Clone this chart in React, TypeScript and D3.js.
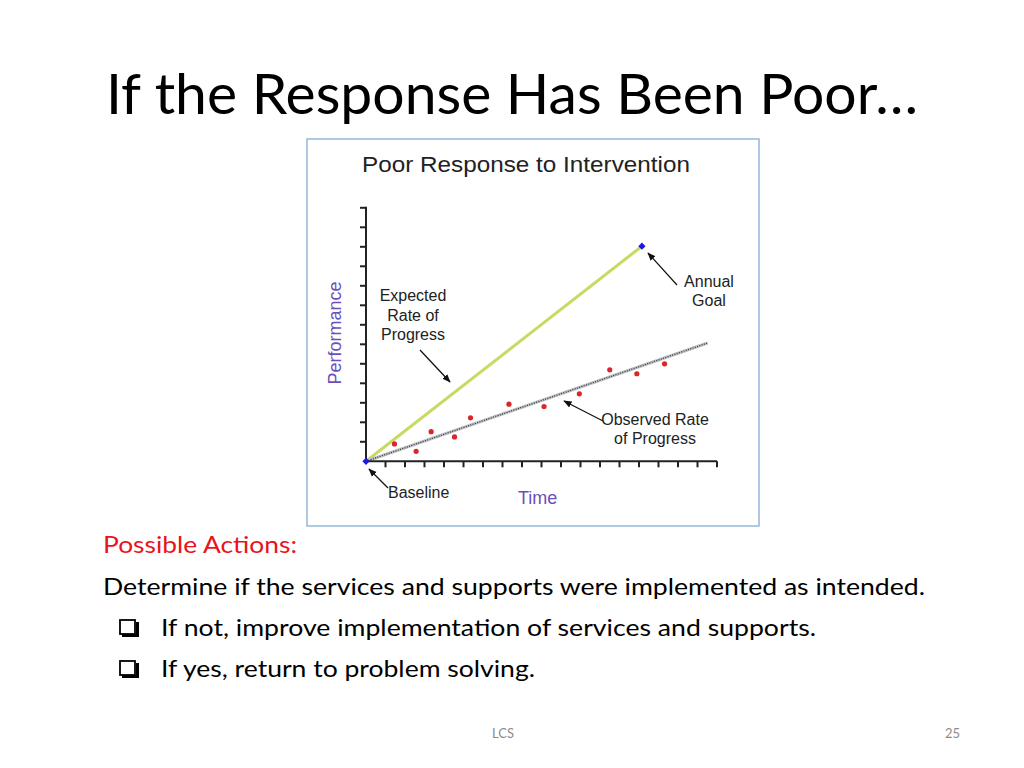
import * as React from "react"
import * as d3 from "d3"

// values (axis units = tick steps)
const observedX = [1.46, 2.57, 3.34, 4.54, 5.36, 7.33, 9.13, 10.94, 12.5, 13.89, 15.31]
const observedY = [0.89, 0.51, 1.52, 1.25, 2.23, 2.93, 2.81, 3.46, 4.69, 4.49, 5.0]
const baselinePoint: [number, number] = [0, 0]
const goalPoint: [number, number] = [14.15, 11.03]
const trendEnd: [number, number] = [17.52, 6.07]
const xTickCount = 18
const yTickCount = 13

const bulletLines = [
  "If not, improve implementation of services and supports.",
  "If yes, return to problem solving.",
]
const bulletWidths = [655, 374]

const chartFont = "'Liberation Sans', Arial, sans-serif"
const slideFont = "Lato, 'Open Sans', sans-serif"
const purple = "#6b4fbb"

function Checkbox({ x, y }: { x: number; y: number }) {
  return (
    <g>
      <path d={`M${x + 3},${y + 16.5} H${x + 18.5} V${y + 3}`} fill="none" stroke="#000" strokeWidth={3} />
      <rect x={x + 1} y={y + 1} width={15} height={14} fill="none" stroke="#000" strokeWidth={1.8} />
    </g>
  )
}

export default function App() {
  const x = d3.scaleLinear().domain([0, xTickCount]).range([366, 717])
  const y = d3.scaleLinear().domain([0, yTickCount]).range([461.3, 207.8])

  const line = d3
    .line<[number, number]>()
    .x((d) => x(d[0]))
    .y((d) => y(d[1]))

  const diamond = d3.symbol(d3.symbolSquare, 26)()

  // annotation arrows: from label toward the mark
  const arrows: [number, number, number, number][] = [
    [420, 350, 450, 382],
    [677, 285, 648, 253],
    [603, 421, 564, 401],
    [388, 488, 369, 469],
  ]

  return (
    <svg
      width={1024}
      height={768}
      style={{ position: "absolute", left: 0, top: 0, background: "#fff" }}
    >
      <defs>
        <marker id="ah" viewBox="0 0 10 10" refX={9} refY={5} markerWidth={7} markerHeight={7} orient="auto">
          <path d="M0,1 L10,5 L0,9 Z" fill="#111" />
        </marker>
      </defs>

      {/* slide title */}
      <text x={106} y={114} fontFamily={slideFont} fontSize={56} textLength={812} lengthAdjust="spacingAndGlyphs" fill="#000">
        If the Response Has Been Poor…
      </text>

      {/* chart frame */}
      <rect x={307} y={139} width={452} height={387} fill="#fff" stroke="#8db3d9" strokeWidth={1.4} />
      <text x={526} y={172} textAnchor="middle" fontFamily={chartFont} fontSize={21.5} textLength={328} lengthAdjust="spacingAndGlyphs" fill="#222">
        Poor Response to Intervention
      </text>

      {/* expected line */}
      <path d={line([baselinePoint, goalPoint]) || ""} stroke="#c9d962" strokeWidth={3} fill="none" />

      {/* observed trend line */}
      <path d={line([baselinePoint, trendEnd]) || ""} stroke="#bcc0c4" strokeWidth={3.2} fill="none" />
      <path d={line([baselinePoint, trendEnd]) || ""} stroke="#333" strokeWidth={1.2} strokeDasharray="1,1.4" fill="none" />

      {/* observed points */}
      {observedX.map((v, i) => (
        <circle key={i} cx={x(v)} cy={y(observedY[i])} r={2.6} fill="#d9262a" />
      ))}

      {/* axes */}
      <line x1={x(0)} x2={x(0)} y1={y(yTickCount) - 1} y2={y(0)} stroke="#222" strokeWidth={2} />
      <line x1={x(0)} x2={x(xTickCount)} y1={y(0)} y2={y(0)} stroke="#222" strokeWidth={2} />
      {d3.range(1, yTickCount + 1).map((t) => (
        <line key={"y" + t} x1={x(0) - 6} x2={x(0)} y1={y(t)} y2={y(t)} stroke="#222" strokeWidth={2} />
      ))}
      {d3.range(1, xTickCount + 1).map((t) => (
        <line key={"x" + t} x1={x(t)} x2={x(t)} y1={y(0)} y2={y(0) + 6} stroke="#222" strokeWidth={2} />
      ))}

      {/* baseline and goal markers */}
      {[baselinePoint, goalPoint].map((p, i) => (
        <path key={i} d={diamond || ""} transform={`translate(${x(p[0])},${y(p[1])}) rotate(45)`} fill="#1a1ae6" />
      ))}

      {arrows.map((a, i) => (
        <line key={i} x1={a[0]} y1={a[1]} x2={a[2]} y2={a[3]} stroke="#111" strokeWidth={1.2} markerEnd="url(#ah)" />
      ))}

      <g fontFamily={chartFont} fontSize={16} fill="#222" textAnchor="middle">
        <text x={413} y={301}>Expected</text>
        <text x={413} y={320.5}>Rate of</text>
        <text x={413} y={340}>Progress</text>
        <text x={709} y={287}>Annual</text>
        <text x={709} y={306}>Goal</text>
        <text x={655} y={424.5}>Observed Rate</text>
        <text x={655} y={443.5}>of Progress</text>
        <text x={388} y={498} textAnchor="start">Baseline</text>
      </g>

      <text x={518} y={503.5} fontFamily={chartFont} fontSize={18} fill={purple}>Time</text>
      <text transform="translate(341,333) rotate(-90)" textAnchor="middle" fontFamily={chartFont} fontSize={18} fill={purple}>
        Performance
      </text>

      {/* slide body */}
      <text x={103} y={553} fontFamily={slideFont} fontSize={23} textLength={194} lengthAdjust="spacingAndGlyphs" fill="#e8141b">
        Possible Actions:
      </text>
      <text x={103} y={595} fontFamily={slideFont} fontSize={23} textLength={822} lengthAdjust="spacingAndGlyphs" fill="#000">
        Determine if the services and supports were implemented as intended.
      </text>
      {bulletLines.map((s, i) => (
        <g key={i}>
          <Checkbox x={119} y={619 + i * 41} />
          <text x={161} y={636 + i * 41} fontFamily={slideFont} fontSize={23} textLength={bulletWidths[i]} lengthAdjust="spacingAndGlyphs" fill="#000">
            {s}
          </text>
        </g>
      ))}

      {/* footer */}
      <text x={492} y={738} fontFamily={slideFont} fontSize={13} fill="#8c8c8c">LCS</text>
      <text x={945} y={738} fontFamily={slideFont} fontSize={13} fill="#8c8c8c">25</text>
    </svg>
  )
}
